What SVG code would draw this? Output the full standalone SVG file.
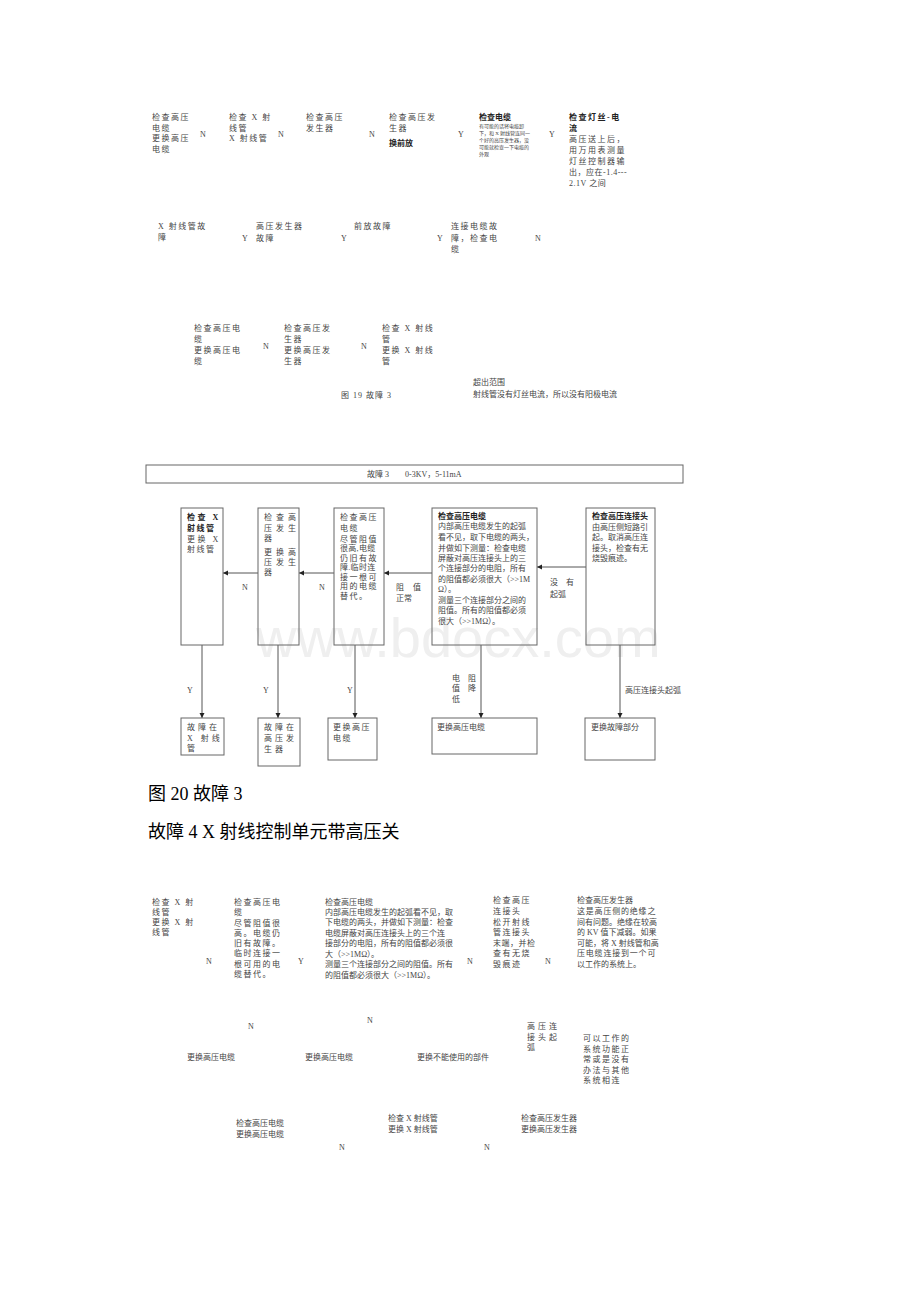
<svg xmlns="http://www.w3.org/2000/svg" width="920" height="1302" viewBox="0 0 920 1302">
<style>
.t{font-family:"Liberation Serif","Noto Sans CJK SC",serif;font-size:8px;fill:#444}
.j{letter-spacing:1.5px}
.b{font-weight:bold;fill:#222}
.s{font-size:5px}
.big{font-family:"Liberation Serif","Noto Sans CJK SC",serif;font-size:18px;fill:#000}
.box{fill:none;stroke:#666;stroke-width:1}
.ln{fill:none;stroke:#555;stroke-width:1}
.wm{font-family:"Liberation Sans",sans-serif;font-size:56px;fill:#efefef}
</style>
<defs>
<marker id="ah" markerWidth="6" markerHeight="6" refX="5" refY="3" orient="auto" markerUnits="userSpaceOnUse">
<path d="M0,0.5 L5,3 L0,5.5 Z" fill="#222"/>
</marker>
</defs>
<rect width="920" height="1302" fill="#fff"/>
<text class="wm" x="256" y="657">www.bdocx.com</text>

<!-- Figure 19 fragments -->
<g id="f19-n1"><text class="t j"><tspan x="152" y="120">检查高压</tspan><tspan x="152" y="130.5">电缆</tspan><tspan x="152" y="141">更换高压</tspan><tspan x="152" y="151.5">电缆</tspan></text></g>
<g id="f19-l1"><text class="t" x="200" y="137">N</text></g>
<g id="f19-n2"><text class="t j"><tspan x="229" y="120">检查 X 射</tspan><tspan x="229" y="130.5">线管</tspan><tspan x="229" y="141">X 射线管</tspan></text></g>
<g id="f19-l2"><text class="t" x="278" y="137">N</text></g>
<g id="f19-n3"><text class="t j"><tspan x="306" y="120">检查高压</tspan><tspan x="306" y="130.5">发生器</tspan></text></g>
<g id="f19-l3"><text class="t" x="369" y="137">N</text></g>
<g id="f19-n4"><text class="t j"><tspan x="389" y="120">检查高压发</tspan><tspan x="389" y="130.5">生器</tspan><tspan class="b" x="389" y="146" style="letter-spacing:0">换前放</tspan></text></g>
<g id="f19-l4"><text class="t" x="458" y="137">Y</text></g>
<g id="f19-n5"><text class="t"><tspan class="b" x="479" y="120">检查电缆</tspan><tspan class="s" x="479" y="128">有可能的话将电缆卸</tspan><tspan class="s" x="479" y="135">下，和 X 射线管连同一</tspan><tspan class="s" x="479" y="142">个好的高压发生器，没</tspan><tspan class="s" x="479" y="149">可能就检查一下电缆的</tspan><tspan class="s" x="479" y="156">外观</tspan></text></g>
<g id="f19-l5"><text class="t" x="549" y="137">Y</text></g>
<g id="f19-n6"><text class="t j"><tspan class="b" x="569" y="120">检查灯丝-电</tspan><tspan class="b" x="569" y="131">流</tspan><tspan x="569" y="142">高压送上后，</tspan><tspan x="569" y="153">用万用表测量</tspan><tspan x="569" y="164">灯丝控制器输</tspan><tspan x="569" y="175" style="letter-spacing:0.5px">出，应在-1.4---</tspan><tspan x="569" y="186" style="letter-spacing:0.5px">2.1V 之间</tspan></text></g>

<g id="f19-n7"><text class="t j"><tspan x="158" y="229">X 射线管故</tspan><tspan x="158" y="240">障</tspan></text></g>
<g id="f19-l7"><text class="t" x="242" y="241">Y</text></g>
<g id="f19-n8"><text class="t j"><tspan x="256" y="229">高压发生器</tspan><tspan x="256" y="241">故障</tspan></text></g>
<g id="f19-l8"><text class="t" x="341" y="241">Y</text></g>
<g id="f19-n9"><text class="t j"><tspan x="354" y="229">前放故障</tspan></text></g>
<g id="f19-l9"><text class="t" x="437" y="241">Y</text></g>
<g id="f19-n10"><text class="t j"><tspan x="451" y="229">连接电缆故</tspan><tspan x="451" y="241">障，检查电</tspan><tspan x="451" y="252">缆</tspan></text></g>
<g id="f19-l10"><text class="t" x="535" y="241">N</text></g>

<g id="f19-n11"><text class="t j"><tspan x="194" y="331">检查高压电</tspan><tspan x="194" y="342">缆</tspan><tspan x="194" y="353">更换高压电</tspan><tspan x="194" y="364">缆</tspan></text></g>
<g id="f19-l11"><text class="t" x="263" y="349">N</text></g>
<g id="f19-n12"><text class="t j"><tspan x="284" y="331">检查高压发</tspan><tspan x="284" y="342">生器</tspan><tspan x="284" y="353">更换高压发</tspan><tspan x="284" y="364">生器</tspan></text></g>
<g id="f19-l12"><text class="t" x="361" y="349">N</text></g>
<g id="f19-n13"><text class="t j"><tspan x="382" y="331">检查 X 射线</tspan><tspan x="382" y="342">管</tspan><tspan x="382" y="353">更换 X 射线</tspan><tspan x="382" y="364">管</tspan></text></g>
<g id="f19-n14"><text class="t"><tspan x="473" y="385">超出范围</tspan><tspan x="473" y="397">射线管没有灯丝电流，所以没有阳极电流</tspan></text></g>
<g id="f19-cap"><text class="t" x="341" y="398" style="letter-spacing:1px">图 19 故障 3</text></g>

<!-- Figure 20 -->
<g id="f20-header"><rect class="box" x="146" y="465" width="537" height="18"/><text class="t"><tspan x="367" y="477">故障 3</tspan><tspan x="405" y="477">0-3KV，5-11mA</tspan></text></g>

<g id="f20-connectors">
<line class="ln" x1="258" y1="573" x2="223" y2="573" marker-end="url(#ah)"/>
<line class="ln" x1="334" y1="573" x2="299" y2="573" marker-end="url(#ah)"/>
<line class="ln" x1="432" y1="573" x2="384" y2="573" marker-end="url(#ah)"/>
<line class="ln" x1="586" y1="567" x2="537" y2="567" marker-end="url(#ah)"/>
<line class="ln" x1="202" y1="645" x2="202" y2="718" marker-end="url(#ah)"/>
<line class="ln" x1="278" y1="645" x2="278" y2="718" marker-end="url(#ah)"/>
<line class="ln" x1="355" y1="645" x2="355" y2="718" marker-end="url(#ah)"/>
<line class="ln" x1="481" y1="645" x2="481" y2="718" marker-end="url(#ah)"/>
<line class="ln" x1="620" y1="645" x2="620" y2="718" marker-end="url(#ah)"/>
<text class="t" x="242" y="590">N</text>
<text class="t" x="319" y="590">N</text>
<text class="t"><tspan x="396" y="590">阻</tspan><tspan x="413" y="590">值</tspan><tspan x="396" y="601">正常</tspan></text>
<text class="t"><tspan x="550" y="585">没</tspan><tspan x="566" y="585">有</tspan><tspan x="550" y="597">起弧</tspan></text>
<text class="t" x="187" y="693">Y</text>
<text class="t" x="263" y="693">Y</text>
<text class="t" x="347" y="693">Y</text>
<text class="t"><tspan x="452" y="681">电</tspan><tspan x="468" y="681">阻</tspan><tspan x="452" y="691">值</tspan><tspan x="468" y="691">降</tspan><tspan x="452" y="702">低</tspan></text>
<text class="t" x="625" y="693">高压连接头起弧</text>
</g>

<g id="f20-n1"><rect class="box" x="181" y="508" width="42" height="137"/><text class="t j"><tspan class="b" x="187" y="520" style="letter-spacing:2.5px">检查 X</tspan><tspan class="b" x="187" y="530.5">射线管</tspan><tspan x="187" y="541.5" style="letter-spacing:2.5px">更换 X</tspan><tspan x="187" y="552">射线管</tspan></text></g>
<g id="f20-n2"><rect class="box" x="258" y="508" width="41" height="137"/><text class="t" style="letter-spacing:4px"><tspan x="264" y="520">检查高</tspan><tspan x="264" y="531">压发生</tspan><tspan x="264" y="541">器</tspan><tspan x="264" y="555">更换高</tspan><tspan x="264" y="565">压发生</tspan><tspan x="264" y="575">器</tspan></text></g>
<g id="f20-n3"><rect class="box" x="334" y="508" width="50" height="137"/><text class="t j"><tspan x="340" y="520">检查高压</tspan><tspan x="340" y="531">电缆</tspan><tspan x="340" y="541.5">尽管阻值</tspan><tspan x="340" y="551" style="letter-spacing:0.3px">很高,电缆</tspan><tspan x="340" y="560.5">仍旧有故</tspan><tspan x="340" y="570" style="letter-spacing:0.3px">障.临时连</tspan><tspan x="340" y="579.5">接一根可</tspan><tspan x="340" y="589">用的电缆</tspan><tspan x="340" y="598.5">替代。</tspan></text></g>
<g id="f20-n4"><rect class="box" x="432" y="508" width="105" height="137"/><text class="t"><tspan class="b" x="438" y="518.5">检查高压电缆</tspan><tspan x="438" y="529">内部高压电缆发生的起弧</tspan><tspan x="438" y="540">看不见，取下电缆的两头，</tspan><tspan x="438" y="550.5">并做如下测量：检查电缆</tspan><tspan x="438" y="561">屏蔽对高压连接头上的三</tspan><tspan x="438" y="571">个连接部分的电阻，所有</tspan><tspan x="438" y="581.5">的阻值都必须很大（&gt;&gt;1M</tspan><tspan x="438" y="592">Ω）。</tspan><tspan x="438" y="602.5">测量三个连接部分之间的</tspan><tspan x="438" y="613">阻值。所有的阻值都必须</tspan><tspan x="438" y="623.5">很大（&gt;&gt;1MΩ）。</tspan></text></g>
<g id="f20-n5"><rect class="box" x="586" y="508" width="69" height="137"/><text class="t"><tspan class="b" x="592" y="518.5">检查高压连接头</tspan><tspan x="592" y="529.5">由高压侧短路引</tspan><tspan x="592" y="540">起。取消高压连</tspan><tspan x="592" y="550.5">接头，检查有无</tspan><tspan x="592" y="561">烧毁痕迹。</tspan></text></g>

<g id="f20-r1"><rect class="box" x="181" y="718" width="43" height="37"/><text class="t" style="letter-spacing:3px"><tspan x="187" y="730">故障在</tspan><tspan x="187" y="740.5">X 射线</tspan><tspan x="187" y="751">管</tspan></text></g>
<g id="f20-r2"><rect class="box" x="258" y="718" width="42" height="48"/><text class="t" style="letter-spacing:3px"><tspan x="264" y="730">故障在</tspan><tspan x="264" y="741">高压发</tspan><tspan x="264" y="751.5">生器</tspan></text></g>
<g id="f20-r3"><rect class="box" x="328" y="718" width="49" height="42"/><text class="t j"><tspan x="333" y="730">更换高压</tspan><tspan x="333" y="740.5">电缆</tspan></text></g>
<g id="f20-r4"><rect class="box" x="432" y="718" width="105" height="36"/><text class="t" x="437" y="730">更换高压电缆</text></g>
<g id="f20-r5"><rect class="box" x="585" y="718" width="70" height="42"/><text class="t" x="591" y="730">更换故障部分</text></g>

<g id="captions">
<text class="big" x="148" y="800">图 20 故障 3</text>
<text class="big" x="148" y="838">故障 4 X 射线控制单元带高压关</text>
</g>

<!-- Figure 21 fragments -->
<g id="f21-n1"><text class="t j"><tspan x="152" y="904.5">检查 X 射</tspan><tspan x="152" y="914.5">线管</tspan><tspan x="152" y="925">更换 X 射</tspan><tspan x="152" y="935">线管</tspan></text></g>
<g id="f21-l1"><text class="t" x="206" y="964">N</text></g>
<g id="f21-n2"><text class="t j"><tspan x="234" y="904.5">检查高压电</tspan><tspan x="234" y="914.5">缆</tspan><tspan x="234" y="925.5">尽管阻值很</tspan><tspan x="234" y="935.5">高。电缆仍</tspan><tspan x="234" y="946">旧有故障。</tspan><tspan x="234" y="956">临时连接一</tspan><tspan x="234" y="966.5">根可用的电</tspan><tspan x="234" y="977">缆替代。</tspan></text></g>
<g id="f21-l2"><text class="t" x="298" y="964">Y</text></g>
<g id="f21-n3"><text class="t"><tspan x="325" y="904.5">检查高压电缆</tspan><tspan x="325" y="914.5">内部高压电缆发生的起弧看不见，取</tspan><tspan x="325" y="925">下电缆的两头，并做如下测量：检查</tspan><tspan x="325" y="935.5">电缆屏蔽对高压连接头上的三个连</tspan><tspan x="325" y="946">接部分的电阻，所有的阻值都必须很</tspan><tspan x="325" y="956.5">大（&gt;&gt;1MΩ）。</tspan><tspan x="325" y="967">测量三个连接部分之间的阻值。所有</tspan><tspan x="325" y="977.5">的阻值都必须很大（&gt;&gt;1MΩ）。</tspan></text></g>
<g id="f21-l3"><text class="t" x="467" y="964">N</text></g>
<g id="f21-n4"><text class="t j"><tspan x="493" y="903">检查高压</tspan><tspan x="493" y="914">连接头</tspan><tspan x="493" y="924.5">松开射线</tspan><tspan x="493" y="935">管连接头</tspan><tspan x="493" y="946" style="letter-spacing:0.5px">末端，并检</tspan><tspan x="493" y="956">查有无烧</tspan><tspan x="493" y="967">毁痕迹</tspan></text></g>
<g id="f21-l4"><text class="t" x="545" y="964">N</text></g>
<g id="f21-n5"><text class="t"><tspan x="577" y="903">检查高压发生器</tspan><tspan x="577" y="914" style="letter-spacing:0.8px">这是高压侧的绝缘之</tspan><tspan x="577" y="925">间有问题。绝缘在较高</tspan><tspan x="577" y="935">的 KV 值下减弱。如果</tspan><tspan x="577" y="946">可能，将 X 射线管和高</tspan><tspan x="577" y="956" style="letter-spacing:0.8px">压电缆连接到一个可</tspan><tspan x="577" y="967">以工作的系统上。</tspan></text></g>

<g id="f21-l5"><text class="t" x="248" y="1029">N</text></g>
<g id="f21-l6"><text class="t" x="367" y="1023">N</text></g>
<g id="f21-n6"><text class="t" x="187" y="1060">更换高压电缆</text></g>
<g id="f21-n7"><text class="t" x="305" y="1060">更换高压电缆</text></g>
<g id="f21-n8"><text class="t" x="417" y="1060">更换不能使用的部件</text></g>
<g id="f21-l7"><text class="t" style="letter-spacing:3px"><tspan x="527" y="1029">高压连</tspan><tspan x="527" y="1039.5">接头起</tspan><tspan x="527" y="1050">弧</tspan></text></g>
<g id="f21-n9"><text class="t j"><tspan x="583" y="1041">可以工作的</tspan><tspan x="583" y="1051.5">系统功能正</tspan><tspan x="583" y="1062">常或是没有</tspan><tspan x="583" y="1072.5">办法与其他</tspan><tspan x="583" y="1083">系统相连</tspan></text></g>
<g id="f21-n10"><text class="t"><tspan x="236" y="1126">检查高压电缆</tspan><tspan x="236" y="1136.5">更换高压电缆</tspan></text></g>
<g id="f21-n11"><text class="t"><tspan x="388" y="1121">检查 X 射线管</tspan><tspan x="388" y="1131.5">更换 X 射线管</tspan></text></g>
<g id="f21-n12"><text class="t"><tspan x="521" y="1121">检查高压发生器</tspan><tspan x="521" y="1131.5">更换高压发生器</tspan></text></g>
<g id="f21-l8"><text class="t" x="339" y="1150">N</text></g>
<g id="f21-l9"><text class="t" x="484" y="1150">N</text></g>
</svg>
